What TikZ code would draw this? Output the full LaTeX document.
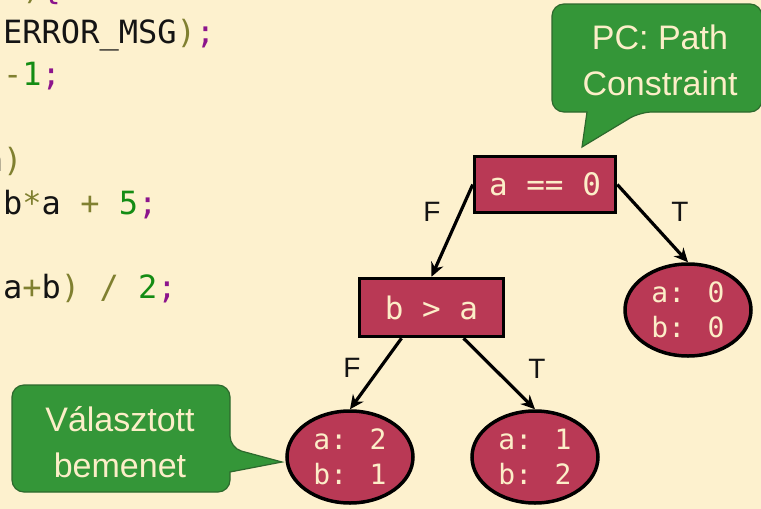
\documentclass[tikz,border=0pt]{standalone}
\usepackage{fontspec}
\setmainfont{Liberation Sans}
\newfontfamily\codefont{DejaVu Sans Mono}
\usetikzlibrary{shapes.geometric,arrows.meta}
\definecolor{bg}{RGB}{253,241,206}
\definecolor{crim}{RGB}{185,57,85}
\definecolor{cream}{RGB}{252,238,200}
\definecolor{cgreen}{RGB}{52,150,56}
\definecolor{cgreenb}{RGB}{45,105,45}
\definecolor{olive}{RGB}{128,128,48}
\definecolor{numgreen}{RGB}{20,140,20}
\definecolor{purp}{RGB}{140,20,140}
\definecolor{txt}{RGB}{20,20,20}
\begin{document}
\begin{tikzpicture}[x=1pt,y=-1pt,
 code/.style={anchor=base west, inner sep=0pt, font=\codefont\fontsize{32}{40}\selectfont, text=txt},
 condbox/.style={draw=black, line width=3.5pt, fill=crim, inner sep=0pt, text=cream, font=\codefont\fontsize{31}{36}\selectfont},
 leaf/.style={ellipse, draw=black, line width=3.5pt, fill=crim, minimum width=126pt, minimum height=92pt, inner sep=0pt, text=cream, align=center, font=\codefont\fontsize{28}{35}\selectfont},
 edge/.style={draw=black, line width=3.2pt, -{Stealth[length=14pt,width=13pt]}},
 edgelabel/.style={font=\fontsize{28}{30}\selectfont, text=txt, inner sep=0pt},
 bubble/.style={fill=cgreen, draw=cgreenb, line width=1.2pt},
 bubbletext/.style={text=cream, align=center, font=\fontsize{34}{46}\selectfont, inner sep=0pt}
]
\fill[bg] (0,0) rectangle (761,509);
\useasboundingbox (0,0) rectangle (761,509);

% code fragment
\node[code] (code0) at (3,-1) {{\color{numgreen}0}{\color{olive})}{\color{purp}\{}};
\node[code] (code1) at (3,43) {ERROR\symbol{95}MSG{\color{olive})}{\color{purp};}};
\node[code] (code2) at (3,85) {{\color{olive}-}{\color{numgreen}1}{\color{purp};}};
\node[code] (code3) at (-16.3,171) {a{\color{olive})}};
\node[code] (code4) at (3,214) {b{\color{olive}*}a {\color{olive}+} {\color{numgreen}5}{\color{purp};}};
\node[code] (code5) at (3,298) {a{\color{olive}+}b{\color{olive})} {\color{olive}/} {\color{numgreen}2}{\color{purp};}};

% callouts
\coordinate (pctip) at (582,147);
\draw[bubble] (587,112) [rounded corners=12pt] -- (552,112) -- (552,4) -- (762,4) -- (762,112) -- (640,112) [sharp corners] -- (pctip) -- cycle;
\node[bubbletext] (pc) at (660,60) {PC: Path\\Constraint};

\coordinate (vtip) at (282,462);
\draw[bubble] (230,472) [rounded corners=12pt] -- (230,492) -- (12,492) -- (12,385) -- (230,385) -- (230,448) [sharp corners] -- (vtip) -- cycle;
\node[bubbletext] (vb) at (120,442) {Választott\\bemenet};

% tree
\node[condbox, minimum width=141pt, minimum height=56pt] (a0) at (545,184.5) {a == 0};
\node[condbox, minimum width=144pt, minimum height=58pt] (ba) at (431.5,307.5) {b > a};
\node[leaf] (e0) at (688,310) {a: 0\\b: 0};
\node[leaf] (e1) at (535,457) {a: 1\\b: 2};
\node[leaf] (e2) at (350,457) {a: 2\\b: 1};

\draw[edge] (a0.west) -- (ba.north);
\draw[edge] (a0.east) -- (e0.north);
\draw[edge] ([xshift=-30pt]ba.south) -- (e2.north);
\draw[edge] ([xshift=32pt]ba.south) -- (e1.north);

\node[edgelabel] (lf1) at (432,212) {F};
\node[edgelabel] (lt1) at (680,212) {T};
\node[edgelabel] (lf2) at (352,368) {F};
\node[edgelabel] (lt2) at (537,369) {T};
\end{tikzpicture}
\end{document}
